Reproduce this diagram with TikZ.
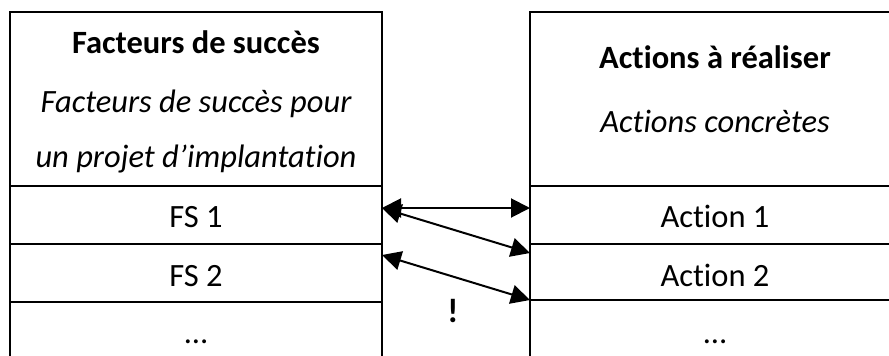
\documentclass[tikz,border=0pt]{standalone}
\usepackage{fontspec}
\setmainfont{Carlito}[Ligatures=NoCommon]
\usetikzlibrary{arrows.meta}
\begin{document}
\begin{tikzpicture}[x=1pt,y=-1pt,
  cell/.style={draw,line width=1.8pt,minimum width=#1,inner sep=0pt,outer sep=0pt,anchor=north west},
  txt/.style={anchor=base,inner sep=0pt,font=\fontsize{32.5}{38}\selectfont},
  link/.style={line width=2pt,{Triangle[length=19pt,width=19pt]}-{Triangle[length=19pt,width=19pt]}}]
\useasboundingbox (0,0) rectangle (889,356);
\clip (0,0) rectangle (889,356);
% left column
\node[cell=372pt,minimum height=174pt] (lh) at (10,12) {};
\node[cell=372pt,minimum height=58pt] (l1) at (10,186) {};
\node[cell=372pt,minimum height=58pt] (l2) at (10,244) {};
\node[cell=372pt,minimum height=80pt,line width=1.4pt] (l3) at (10,302) {};
% right column
\node[cell=380pt,minimum height=174pt] (rh) at (530,12) {};
\node[cell=380pt,minimum height=58pt] (r1) at (530,186) {};
\node[cell=380pt,minimum height=56pt] (r2) at (530,244) {};
\node[cell=380pt,minimum height=80pt] (r3) at (530,300) {};
% texts
\node[txt,font=\fontsize{32.5}{38}\selectfont\bfseries] (t1) at (196,53) {Facteurs de succès};
\node[txt,font=\fontsize{32.5}{38}\selectfont\itshape] (t2) at (196,112) {Facteurs de succès pour};
\node[txt,font=\fontsize{32.5}{38}\selectfont\itshape] (t3) at (196,167) {un projet d’implantation};
\node[txt] (fs1) at (196,227) {FS 1};
\node[txt] (fs2) at (196,286) {FS 2};
\node[txt] (fs3) at (196,343) {…};
\node[txt,font=\fontsize{32.5}{38}\selectfont\bfseries] (a0) at (715,68) {Actions à réaliser};
\node[txt,font=\fontsize{32.5}{38}\selectfont\itshape] (a00) at (715,132) {Actions concrètes};
\node[txt] (ac1) at (715,227) {Action 1};
\node[txt] (ac2) at (715,286) {Action 2};
\node[txt] (ac3) at (715,343) {…};
\node[txt,font=\fontsize{34}{38}\selectfont\bfseries] (ex) at (453,322) {!};
% connectors
\coordinate (p1) at (382,208);
\coordinate (q1) at (530,208);
\coordinate (q2) at (530,253);
\coordinate (p3) at (382,255);
\coordinate (q3) at (530,300);
\draw[link] (p1) -- (q1);
\draw[link] (p1) -- (q2);
\draw[link] (p3) -- (q3);
\end{tikzpicture}
\end{document}
